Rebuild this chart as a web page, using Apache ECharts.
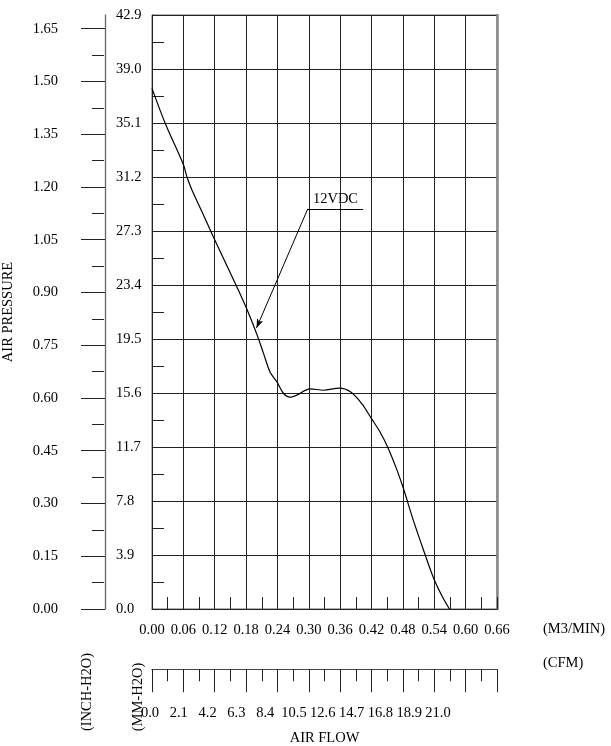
<!DOCTYPE html>
<html>
<head>
<meta charset="utf-8">
<script src="https://cdn.jsdelivr.net/npm/echarts@6/dist/echarts.min.js"></script>
<style>
html,body{margin:0;padding:0;background:#fff;}
#chart{width:611px;height:746px;}
</style>
</head>
<body>
<div id="chart"></div>
<script>
// ---- data ----
const flowM3 = [0.000,0.025,0.060,0.067,0.076,0.098,0.117,0.162,0.181,0.200,0.213,0.226,0.239,0.251,0.264,0.277,0.302,0.328,0.358,0.379,0.402,0.419,0.436,0.452,0.468,0.481,0.500,0.519,0.538,0.554,0.569];
const pressMM = [37.6,35.1,32.1,31.2,30.3,28.5,26.9,23.3,21.7,19.9,18.5,17.1,16.4,15.6,15.3,15.45,15.9,15.8,15.95,15.7,14.8,13.8,12.8,11.6,10.1,8.7,6.4,4.3,2.3,1.0,0.0];
const inchTicks = [0,0.15,0.30,0.45,0.60,0.75,0.90,1.05,1.20,1.35,1.50,1.65];
const inchMinor = [0.075,0.225,0.375,0.525,0.675,0.825,0.975,1.125,1.275,1.425,1.575];
const cfmLabels = [0,2.1,4.2,6.3,8.4,10.5,12.6,14.7,16.8,18.9,21.0];
const seriesName = '12VDC';
const calloutTip = [0.200, 20.3];
const calloutElbow = [0.298, 28.9];
const calloutEnd = [0.404, 28.9];

const FONT = "'Liberation Serif','Times New Roman',serif";
const FS = 14.5;
const mmMax = 42.9, mmStep = 3.9;
const m3Max = 0.66, m3Step = 0.06;
const inchMax = mmMax / 25.4;

const chart = echarts.init(document.getElementById('chart'), null, {renderer:'canvas'});
const hiddenAxis = (gi) => ({gridIndex: gi, type:'value', min:0, max:1, show:false});

const option = {
  animation: false,
  backgroundColor: '#fff',
  textStyle: {fontFamily: FONT},
  grid: [
    {left:152, top:15, width:345, height:594, show:true, borderColor:'#666', borderWidth:1, containLabel:false},
    {left:104, top:15, width:1, height:594, containLabel:false},
    {left:104, top:15, width:1, height:594, containLabel:false},
    {left:152, top:669, width:345, height:1, containLabel:false},
    {left:150, top:669, width:288, height:1, containLabel:false}
  ],
  xAxis: [
    { gridIndex:0, type:'value', min:0, max:m3Max, interval:m3Step, position:'bottom',
      axisLine:{show:true, onZero:false, lineStyle:{color:'#222', width:1}},
      axisTick:{show:true, inside:true, length:12, lineStyle:{color:'#222'}},
      minorTick:{show:true, splitNumber:2, length:12, lineStyle:{color:'#222', width:1}},
      splitLine:{show:true, lineStyle:{color:'#222', width:1}},
      axisLabel:{margin:14, color:'#000', fontFamily:FONT, fontSize:FS, formatter:v=>v.toFixed(2)}
    },
    hiddenAxis(1),
    hiddenAxis(2),
    { gridIndex:3, type:'value', min:0, max:m3Max, interval:m3Step, position:'bottom',
      name:'AIR FLOW', nameLocation:'middle', nameGap:61,
      nameTextStyle:{color:'#000', fontFamily:FONT, fontSize:FS},
      axisLine:{show:true, onZero:false, lineStyle:{color:'#444', width:1}},
      axisTick:{show:true, inside:false, length:23, lineStyle:{color:'#222'}},
      minorTick:{show:true, splitNumber:2, length:12, lineStyle:{color:'#222', width:1}},
      splitLine:{show:false},
      axisLabel:{show:false}
    },
    { gridIndex:4, type:'value', min:0, max:21, position:'bottom',
      axisLine:{show:false}, axisTick:{show:false}, splitLine:{show:false},
      axisLabel:{show:true, customValues:cfmLabels, margin:36, color:'#000', fontFamily:FONT, fontSize:FS, formatter:v=>v.toFixed(1)}
    }
  ],
  yAxis: [
    { gridIndex:0, type:'value', min:0, max:mmMax, interval:mmStep, position:'left',
      axisLine:{show:true, onZero:false, lineStyle:{color:'#222', width:1}},
      axisTick:{show:true, inside:true, length:24, lineStyle:{color:'#222'}},
      minorTick:{show:true, splitNumber:2, length:12, lineStyle:{color:'#222', width:1}},
      splitLine:{show:true, lineStyle:{color:'#222', width:1}},
      axisLabel:{margin:36, align:'left', color:'#000', fontFamily:FONT, fontSize:FS, formatter:v=>v.toFixed(1)}
    },
    { gridIndex:1, type:'value', min:0, max:inchMax, position:'left',
      name:'AIR PRESSURE', nameLocation:'middle', nameGap:89, nameRotate:90,
      nameTextStyle:{color:'#000', fontFamily:FONT, fontSize:FS},
      axisLine:{show:true, onZero:false, lineStyle:{color:'#666', width:1.3}},
      axisTick:{show:true, inside:false, length:24, customValues:inchTicks, lineStyle:{color:'#222'}},
      splitLine:{show:false},
      axisLabel:{show:true, customValues:inchTicks, margin:47, color:'#000', fontFamily:FONT, fontSize:FS, formatter:v=>v.toFixed(2)}
    },
    { gridIndex:2, type:'value', min:0, max:inchMax, position:'left',
      axisLine:{show:false}, splitLine:{show:false}, axisLabel:{show:false},
      axisTick:{show:true, inside:false, length:12, customValues:inchMinor, lineStyle:{color:'#222'}}
    },
    hiddenAxis(3),
    hiddenAxis(4),
    { gridIndex:0, type:'value', min:0, max:mmMax, position:'right',
      axisLine:{show:true, onZero:false, lineStyle:{color:'#888', width:2.5}},
      axisTick:{show:false}, axisLabel:{show:false}, splitLine:{show:false}
    }
  ],
  series: [
    { name: seriesName, type:'line', xAxisIndex:0, yAxisIndex:0,
      data: flowM3.map((x,i)=>[x, pressMM[i]]),
      showSymbol:false, smooth:0.3,
      lineStyle:{color:'#000', width:1.2},
      silent:true,
      markLine:{
        silent:true, animation:false,
        lineStyle:{color:'#000', width:1, type:'solid'},
        data:[
          [{coord:calloutElbow, symbol:'none', label:{show:false}},
           {coord:calloutTip, symbol:'arrow', symbolSize:[5,9]}],
          [{coord:calloutElbow, symbol:'none',
            label:{show:true, formatter:seriesName, position:'insideMiddleTop', distance:2, color:'#000', fontFamily:FONT, fontSize:FS}},
           {coord:calloutEnd, symbol:'none'}]
        ]
      }
    }
  ],
  graphic: [
    {type:'text', left:543, top:622, style:{text:'(M3/MIN)', fill:'#000', font:`${FS}px ${FONT}`}},
    {type:'text', left:543, top:656, style:{text:'(CFM)', fill:'#000', font:`${FS}px ${FONT}`}},
    {type:'text', x:87, y:692, rotation:Math.PI/2, style:{text:'(INCH-H2O)', fill:'#000', font:`${FS}px ${FONT}`, align:'center', verticalAlign:'middle'}},
    {type:'text', x:138, y:697, rotation:Math.PI/2, style:{text:'(MM-H2O)', fill:'#000', font:`${FS}px ${FONT}`, align:'center', verticalAlign:'middle'}}
  ]
};
chart.setOption(option);
</script>
</body>
</html>
